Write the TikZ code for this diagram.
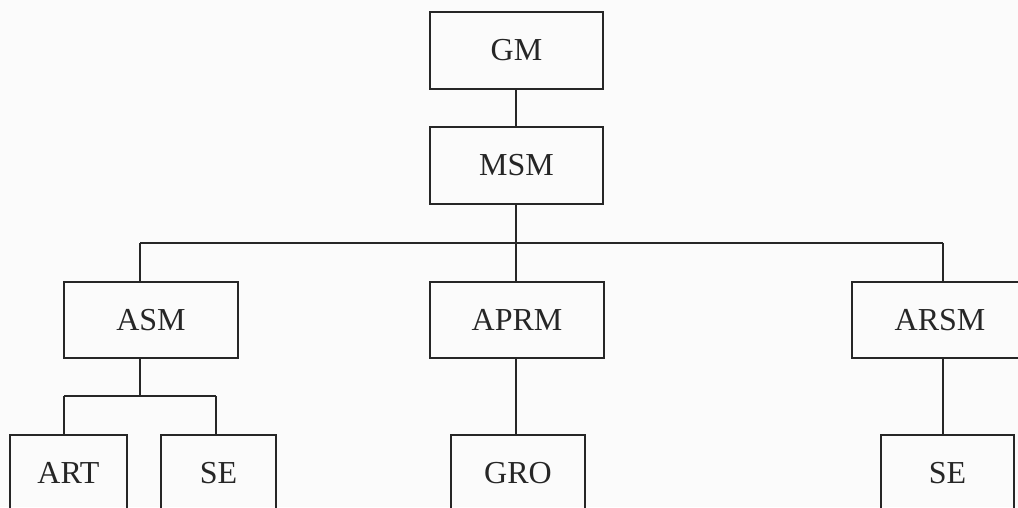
\documentclass[tikz,border=0pt]{standalone}
\usepackage{fontspec}
\setmainfont{Liberation Serif}
\begin{document}
\begin{tikzpicture}[x=1pt,y=-1pt,
  box/.style={draw=black!85,line width=1.6pt,fill=none,inner sep=0pt,font=\fontsize{32}{36}\selectfont,text=black!85},
  link/.style={draw=black!85,line width=1.6pt}]
\useasboundingbox (0,0) rectangle (1018,507);
\clip (0,0) rectangle (1018,507);
\fill[white!97!gray] (0,0) rectangle (1018,507);
\node[box,minimum width=173pt,minimum height=77pt] (GM) at (516.5,50.5) {GM};
\node[box,minimum width=173pt,minimum height=77pt] (MSM) at (516.5,165.5) {MSM};
\node[box,minimum width=174pt,minimum height=76pt] (ASM) at (151,320) {ASM};
\node[box,minimum width=174pt,minimum height=76pt] (APRM) at (517,320) {APRM};
\node[box,minimum width=176pt,minimum height=76pt] (ARSM) at (940,320) {ARSM};
\node[box,minimum width=117pt,minimum height=76pt] (ART) at (68.5,473) {ART};
\node[box,minimum width=115pt,minimum height=76pt] (SE1) at (218.5,473) {SE};
\node[box,minimum width=134pt,minimum height=76pt] (GRO) at (518,473) {GRO};
\node[box,minimum width=133pt,minimum height=76pt] (SE2) at (947.5,473) {SE};
\coordinate (busL) at (140,243);
\coordinate (busR) at (943,243);
\coordinate (busM) at (516,243);
\coordinate (sub) at (140,396);
\coordinate (subL) at (64,396);
\coordinate (subR) at (216,396);
\draw[link] (GM.south -| busM) -- (busM |- MSM.north);
\draw[link] (MSM.south -| busM) -- (busM);
\draw[link] (busL) -- (busR);
\draw[link] (busL) -- (busL |- ASM.north);
\draw[link] (busM) -- (busM |- APRM.north);
\draw[link] (busR) -- (busR |- ARSM.north);
\draw[link] (sub |- ASM.south) -- (sub);
\draw[link] (subL) -- (subR);
\draw[link] (subL) -- (subL |- ART.north);
\draw[link] (subR) -- (subR |- SE1.north);
\draw[link] (APRM.south -| busM) -- (busM |- GRO.north);
\draw[link] (ARSM.south -| busR) -- (busR |- SE2.north);
\end{tikzpicture}
\end{document}
